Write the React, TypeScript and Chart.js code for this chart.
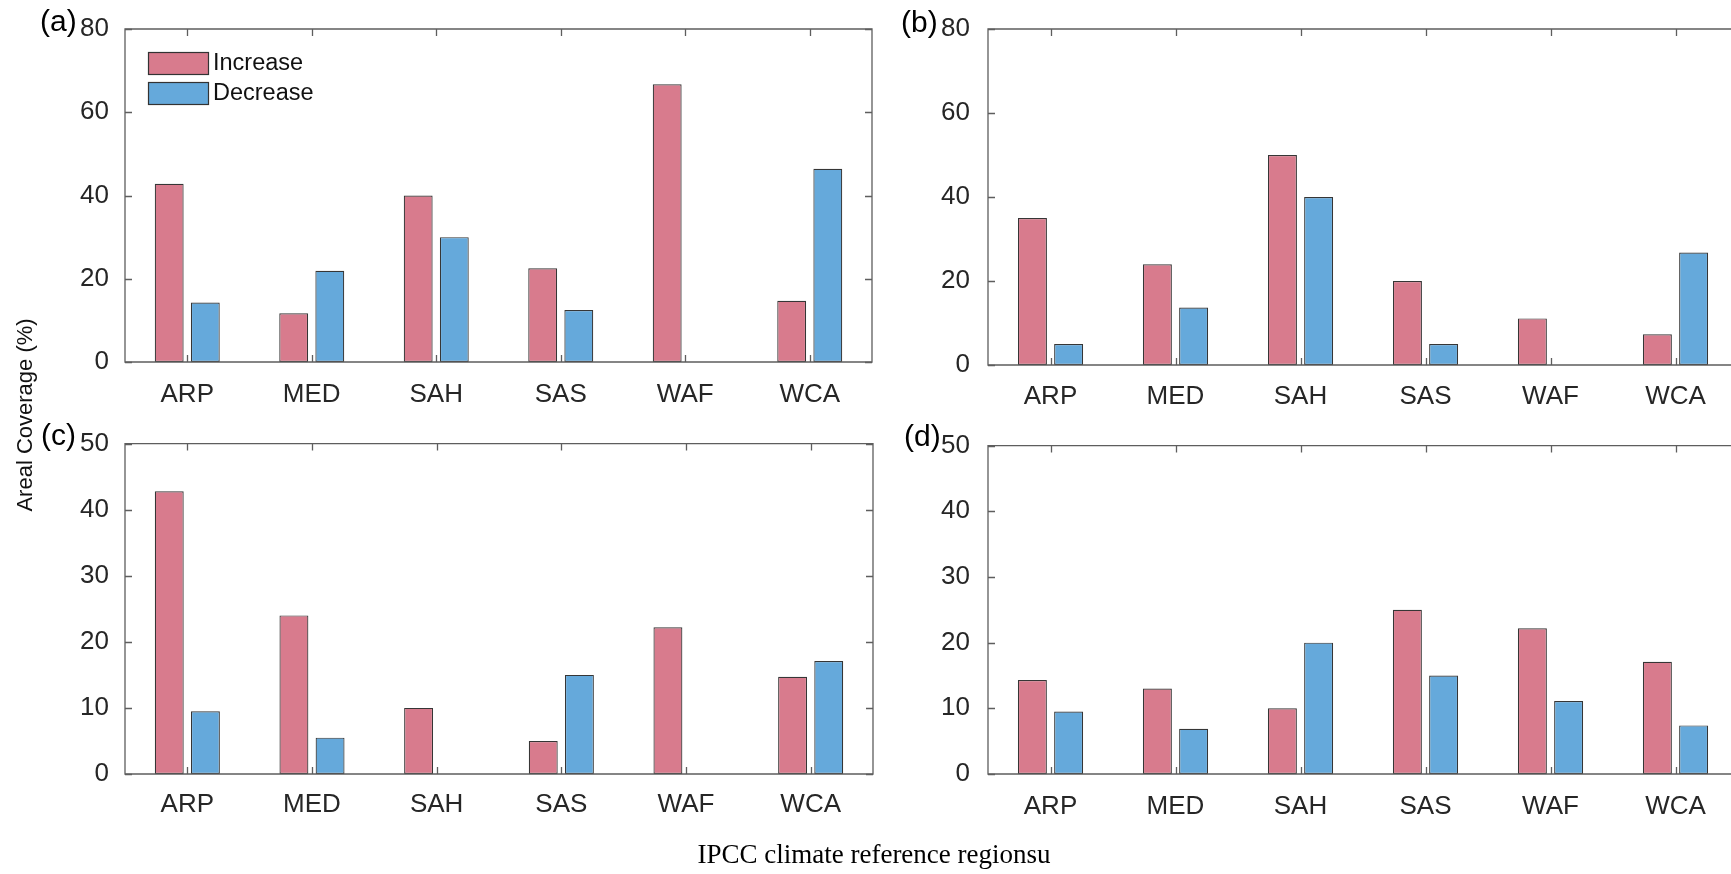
import React, { useEffect, useRef } from "react";
import { Chart, registerables } from "chart.js";

Chart.register(...registerables);

// ---------- data ----------
const categories = ["ARP", "MED", "SAH", "SAS", "WAF", "WCA"];
const seriesNames = ["Increase", "Decrease"];
const seriesColors = ["#D87B8D", "#65A9DB"];

const incA = [42.8, 11.7, 40.0, 22.5, 66.7, 14.7];
const decA = [14.3, 21.9, 30.0, 12.5, 0, 46.4];
const incB = [35.0, 24.0, 50.0, 20.0, 11.1, 7.3];
const decB = [5.0, 13.7, 40.0, 5.0, 0, 26.8];
const incC = [42.8, 24.0, 10.0, 5.0, 22.2, 14.7];
const decC = [9.5, 5.5, 0, 15.0, 0, 17.1];
const incD = [14.3, 13.0, 10.0, 25.0, 22.2, 17.1];
const decD = [9.5, 6.9, 20.0, 15.0, 11.1, 7.4];

const ticksTop = [0, 20, 40, 60, 80];
const ticksBottom = [0, 10, 20, 30, 40, 50];

const panelLabels = ["(a)", "(b)", "(c)", "(d)"];
const yTitle = "Areal Coverage (%)";
const xTitle = "IPCC climate reference regionsu";

// ---------- styling ----------
const SANS = "'Liberation Sans', Arial, sans-serif";
const SERIF = "'Liberation Serif', 'Times New Roman', serif";
const TICK_COLOR = "#262626";
const AXIS_COLOR = "#5e5e5e";
const TICK_FONT = 26;

type PanelProps = {
  canvasLeft: number;
  canvasTop: number;
  canvasW: number;
  canvasH: number;
  area: { L: number; T: number; R: number; B: number };
  inc: number[];
  dec: number[];
  yTicks: number[];
  xPad: number;
  yPad: number;
  legend?: boolean;
};

const boxTicksPlugin = {
  id: "boxTicks",
  afterDatasetsDraw(chart: any) {
    const { ctx, chartArea, scales } = chart;
    const { left, right, top, bottom } = chartArea;
    const tl = 7;
    ctx.save();
    ctx.strokeStyle = AXIS_COLOR;
    ctx.lineWidth = 1.3;
    ctx.beginPath();
    ctx.rect(left, top, right - left, bottom - top);
    ctx.stroke();
    ctx.beginPath();
    const xs = scales.x;
    for (let i = 0; i < xs.ticks.length; i++) {
      const px = Math.round(xs.getPixelForTick(i)) + 0.5;
      ctx.moveTo(px, bottom);
      ctx.lineTo(px, bottom - tl);
      ctx.moveTo(px, top);
      ctx.lineTo(px, top + tl);
    }
    const ys = scales.y;
    for (const t of ys.ticks) {
      const py = Math.round(ys.getPixelForValue(t.value)) + 0.5;
      ctx.moveTo(left, py);
      ctx.lineTo(left + tl, py);
      ctx.moveTo(right, py);
      ctx.lineTo(right - tl, py);
    }
    ctx.stroke();
    ctx.restore();
  },
};

const legendPlugin = {
  id: "innerLegend",
  afterDraw(chart: any, _args: any, opts: any) {
    if (!opts || !opts.show) return;
    const { ctx, chartArea } = chart;
    const x0 = chartArea.left + 23;
    let y0 = chartArea.top + 23;
    const bw = 60;
    const bh = 22;
    const gap = 8;
    ctx.save();
    ctx.font = `23.5px ${SANS}`;
    ctx.textBaseline = "middle";
    ctx.textAlign = "left";
    chart.data.datasets.forEach((ds: any) => {
      ctx.fillStyle = ds.backgroundColor;
      ctx.fillRect(x0, y0, bw, bh);
      ctx.strokeStyle = "#333333";
      ctx.lineWidth = 1.2;
      ctx.strokeRect(x0 + 0.5, y0 + 0.5, bw, bh);
      ctx.fillStyle = "#111111";
      ctx.fillText(ds.label, x0 + bw + 5, y0 + bh / 2 + 1);
      y0 += bh + gap;
    });
    ctx.restore();
  },
};

function Panel(p: PanelProps) {
  const ref = useRef<HTMLCanvasElement | null>(null);
  useEffect(() => {
    const canvas = ref.current;
    if (!canvas) return;
    const yWidth = p.area.L - p.canvasLeft;
    const padTop = p.area.T - p.canvasTop;
    const padRight = p.canvasLeft + p.canvasW - p.area.R;
    const xHeight = p.canvasTop + p.canvasH - p.area.B;
    const yMax = p.yTicks[p.yTicks.length - 1];
    const step = p.yTicks[1] - p.yTicks[0];
    const chart = new Chart(canvas, {
      type: "bar",
      data: {
        labels: categories,
        datasets: [
          {
            label: seriesNames[0],
            data: p.inc,
            backgroundColor: seriesColors[0],
            borderColor: "#363636",
            borderWidth: 1.2,
            borderSkipped: false,
            categoryPercentage: 0.58,
            barPercentage: 0.8,
          },
          {
            label: seriesNames[1],
            data: p.dec,
            backgroundColor: seriesColors[1],
            borderColor: "#363636",
            borderWidth: 1.2,
            borderSkipped: false,
            categoryPercentage: 0.58,
            barPercentage: 0.8,
          },
        ],
      },
      options: {
        animation: false,
        responsive: false,
        maintainAspectRatio: false,
        devicePixelRatio: 1,
        layout: { padding: { top: padTop, right: padRight, left: 0, bottom: 0 } },
        plugins: {
          legend: { display: false },
          tooltip: { enabled: false },
          innerLegend: { show: !!p.legend },
        } as any,
        scales: {
          x: {
            grid: { display: false },
            border: { display: false },
            ticks: {
              color: TICK_COLOR,
              font: { family: SANS, size: TICK_FONT },
              padding: p.xPad,
              maxRotation: 0,
              autoSkip: false,
            },
            afterFit: (s: any) => {
              s.height = xHeight;
            },
          },
          y: {
            min: 0,
            max: yMax,
            grid: { display: false },
            border: { display: false },
            ticks: {
              stepSize: step,
              color: TICK_COLOR,
              font: { family: SANS, size: TICK_FONT },
              padding: p.yPad,
            },
            afterFit: (s: any) => {
              s.width = yWidth;
            },
          },
        },
      },
      plugins: [boxTicksPlugin, legendPlugin],
    });
    return () => chart.destroy();
  }, []);
  return (
    <canvas
      ref={ref}
      width={p.canvasW}
      height={p.canvasH}
      style={{
        position: "absolute",
        left: p.canvasLeft,
        top: p.canvasTop,
        width: p.canvasW,
        height: p.canvasH,
      }}
    />
  );
}

const labelStyle = (x: number, cy: number): React.CSSProperties => ({
  position: "absolute",
  left: x,
  top: cy - 16,
  fontFamily: SANS,
  fontSize: 30,
  lineHeight: "32px",
  color: "#000",
  whiteSpace: "nowrap",
});

export default function App() {
  return (
    <div
      style={{
        position: "absolute",
        left: 0,
        top: 0,
        width: 1731,
        height: 874,
        overflow: "hidden",
        background: "#fff",
      }}
    >
      <Panel
        canvasLeft={0}
        canvasTop={0}
        canvasW={900}
        canvasH={420}
        area={{ L: 125, T: 29, R: 872, B: 362 }}
        inc={incA}
        dec={decA}
        yTicks={ticksTop}
        xPad={9}
        yPad={8}
        legend
      />
      <Panel
        canvasLeft={900}
        canvasTop={0}
        canvasW={845}
        canvasH={420}
        area={{ L: 988, T: 29, R: 1738, B: 365 }}
        inc={incB}
        dec={decB}
        yTicks={ticksTop}
        xPad={8}
        yPad={10}
      />
      <Panel
        canvasLeft={0}
        canvasTop={420}
        canvasW={900}
        canvasH={454}
        area={{ L: 125, T: 441, R: 873, B: 774 }}
        inc={incC}
        dec={decC}
        yTicks={ticksBottom}
        xPad={7}
        yPad={8}
      />
      <Panel
        canvasLeft={900}
        canvasTop={420}
        canvasW={845}
        canvasH={454}
        area={{ L: 988, T: 441, R: 1738, B: 774 }}
        inc={incD}
        dec={decD}
        yTicks={ticksBottom}
        xPad={9}
        yPad={10}
      />
      <div style={labelStyle(40, 21)}>{panelLabels[0]}</div>
      <div style={labelStyle(901, 22)}>{panelLabels[1]}</div>
      <div style={labelStyle(41, 435)}>{panelLabels[2]}</div>
      <div style={labelStyle(904, 436)}>{panelLabels[3]}</div>
      <div
        style={{
          position: "absolute",
          left: 25,
          top: 415,
          transform: "translate(-50%, -50%) rotate(-90deg)",
          fontFamily: SANS,
          fontSize: 22,
          color: "#111",
          whiteSpace: "nowrap",
        }}
      >
        {yTitle}
      </div>
      <div
        style={{
          position: "absolute",
          left: 874,
          top: 854,
          transform: "translate(-50%, -50%)",
          fontFamily: SERIF,
          fontSize: 27,
          color: "#000",
          whiteSpace: "nowrap",
        }}
      >
        {xTitle}
      </div>
    </div>
  );
}
